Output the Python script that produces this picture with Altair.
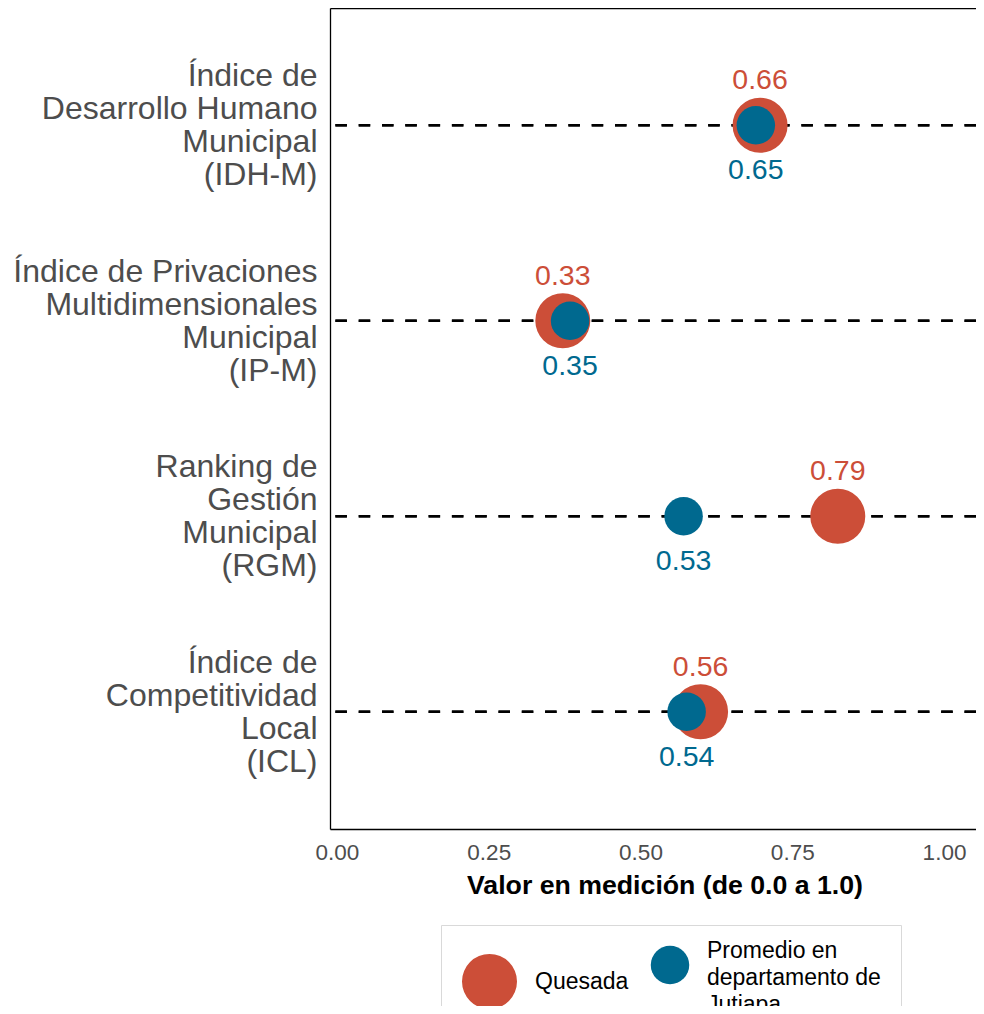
import altair as alt
import pandas as pd

# Categories (top to bottom); "\n" marks line breaks in the axis labels
indicadores = [
    "Índice de\nDesarrollo Humano\nMunicipal\n(IDH-M)",
    "Índice de Privaciones\nMultidimensionales\nMunicipal\n(IP-M)",
    "Ranking de\nGestión\nMunicipal\n(RGM)",
    "Índice de\nCompetitividad\nLocal\n(ICL)",
]
series = ["Quesada", "Promedio en\ndepartamento de\nJutiapa"]

# Plotted positions
quesada_pos = [0.697, 0.372, 0.825, 0.599]
jutiapa_pos = [0.690, 0.384, 0.571, 0.576]
# Printed values
quesada_lbl = [0.66, 0.33, 0.79, 0.56]
jutiapa_lbl = [0.65, 0.35, 0.53, 0.54]

x_ticks = [0.0, 0.25, 0.5, 0.75, 1.0]
colores = ["#CC4E38", "#00698F"]

rows = []
for i, ind in enumerate(indicadores):
    rows.append({"indicador": ind, "serie": series[0], "valor": quesada_pos[i], "etiqueta": quesada_lbl[i]})
for i, ind in enumerate(indicadores):
    rows.append({"indicador": ind, "serie": series[1], "valor": jutiapa_pos[i], "etiqueta": jutiapa_lbl[i]})
df = pd.DataFrame(rows)

FONT = "Liberation Sans"
x_scale = alt.Scale(domain=[-0.0115, 1.0527], nice=False, zero=False)
y_sorted = alt.Y("indicador:N", sort=indicadores, scale=alt.Scale(type="point", padding=0.6))

x_enc = alt.X(
    "valor:Q",
    scale=x_scale,
    axis=alt.Axis(
        values=x_ticks, format=".2f", grid=False, ticks=False,
        domain=True, domainColor="black", domainWidth=1.3,
        labelFontSize=22.5, labelColor="#4D4D4D", labelPadding=12, labelFont=FONT,
        title="Valor en medición (de 0.0 a 1.0)", titleFontSize=26.7, titleFontWeight="bold",
        titleColor="black", titleFont=FONT, titlePadding=9, titleX=334.5, titleAlign="center",
    ),
)
y_enc = alt.Y(
    "indicador:N",
    sort=indicadores,
    scale=alt.Scale(type="point", padding=0.6),
    axis=alt.Axis(
        title=None, ticks=False, domain=True, domainColor="black", domainWidth=1.3, grid=False,
        labelFontSize=32, labelColor="#4D4D4D", labelFont=FONT, labelPadding=13,
        labelLineHeight=33, labelAlign="right", labelBaseline="middle", labelLimit=600,
        labelOffset=-49.5,
        labelExpr="split(datum.label, '\\n')",
    ),
)

legend_kw = dict(
    title=None, orient="none", legendX=111, legendY=917, direction="horizontal",
    labelExpr="split(datum.label, '\\n')", labelFontSize=23, labelColor="black",
    labelFont=FONT, labelOffset=17, columnPadding=21, padding=20,
    labelBaseline={"expr": "datum.label == 'Quesada' ? 'middle' : 'line-bottom'"},
    strokeColor="#D9D9D9", fillColor="white", labelLimit=400,
)

base = alt.Chart(df)

rules = base.mark_rule(color="black", strokeWidth=2.5, strokeDash=[11.5, 11.8]).encode(y=y_sorted)

points = base.mark_circle(opacity=1).encode(
    x=x_enc,
    y=y_enc,
    color=alt.Color("serie:N", scale=alt.Scale(domain=series, range=colores), legend=alt.Legend(**legend_kw)),
    size=alt.Size("serie:N", scale=alt.Scale(domain=series, range=[3025, 1482]), legend=alt.Legend(**legend_kw)),
)

top_axis = alt.Axis(orient="top", labels=False, ticks=False, domain=True, domainColor="black",
                    domainWidth=1.3, grid=False, title=None)

text_q = base.transform_filter(alt.datum.serie == series[0]).mark_text(
    dy=-45, fontSize=28.5, font=FONT, color=colores[0], baseline="middle"
).encode(
    x=alt.X("valor:Q", scale=x_scale, axis=top_axis),
    y=y_sorted,
    text=alt.Text("etiqueta:Q", format=".2f"),
)

text_j = base.transform_filter(alt.datum.serie == series[1]).mark_text(
    dy=45, fontSize=28.5, font=FONT, color=colores[1], baseline="middle"
).encode(
    x=alt.X("valor:Q", scale=x_scale, axis=None),
    y=y_sorted,
    text=alt.Text("etiqueta:Q", format=".2f"),
)

chart = (
    alt.layer(rules, points, text_q, text_j)
    .resolve_axis(x="independent")
    .properties(
        width=646, height=821,
        autosize=alt.AutoSizeParams(type="none"),
        padding={"left": 322, "top": 0, "right": 0, "bottom": 177},
    )
    .configure(style={"guide-label": {"lineHeight": 27}})
    .configure_view(stroke=None)
)

chart.save("out.html", embed_options={"renderer": "svg", "actions": False})
